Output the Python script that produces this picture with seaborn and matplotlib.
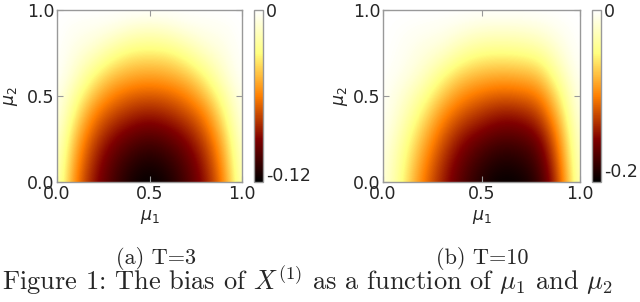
import pandas as pd
import seaborn as sns
import matplotlib
matplotlib.use("Agg")
from matplotlib import pyplot as plt

# grid of the two panels (rows = mu2, columns = mu1)
mu1 = [0.0, 0.1, 0.2, 0.3, 0.4, 0.5, 0.6, 0.7, 0.8, 0.9, 1.0]
mu2 = [0.0, 0.1, 0.2, 0.3, 0.4, 0.5, 0.6, 0.7, 0.8, 0.9, 1.0]

# bias of X^(1), T=3
bias_t3 = [
    [-0.013, -0.063, -0.091, -0.108, -0.121, -0.126, -0.121, -0.108, -0.091, -0.063, -0.013],
    [-0.011, -0.058, -0.087, -0.105, -0.116, -0.121, -0.116, -0.105, -0.087, -0.058, -0.011],
    [-0.009, -0.052, -0.081, -0.098, -0.108, -0.113, -0.108, -0.098, -0.081, -0.052, -0.009],
    [-0.006, -0.044, -0.072, -0.088, -0.097, -0.101, -0.097, -0.088, -0.072, -0.044, -0.006],
    [-0.004, -0.034, -0.062, -0.076, -0.084, -0.088, -0.084, -0.076, -0.062, -0.034, -0.004],
    [-0.003, -0.025, -0.048, -0.063, -0.071, -0.073, -0.071, -0.063, -0.048, -0.025, -0.003],
    [-0.001, -0.015, -0.035, -0.049, -0.055, -0.058, -0.055, -0.049, -0.035, -0.015, -0.001],
    [0.000, -0.010, -0.021, -0.034, -0.042, -0.043, -0.042, -0.034, -0.021, -0.010, 0.000],
    [0.000, -0.006, -0.010, -0.019, -0.026, -0.028, -0.026, -0.019, -0.010, -0.006, 0.000],
    [0.000, -0.003, -0.004, -0.006, -0.011, -0.013, -0.011, -0.006, -0.004, -0.003, 0.000],
    [0.000, 0.000, 0.000, 0.000, 0.000, 0.000, 0.000, 0.000, 0.000, 0.000, 0.000],
]

# bias of X^(1), T=10
bias_t10 = [
    [-0.011, -0.054, -0.108, -0.148, -0.181, -0.202, -0.214, -0.211, -0.194, -0.125, -0.017],
    [-0.010, -0.049, -0.099, -0.142, -0.174, -0.194, -0.205, -0.202, -0.185, -0.116, -0.015],
    [-0.008, -0.043, -0.088, -0.131, -0.163, -0.181, -0.192, -0.189, -0.174, -0.105, -0.012],
    [-0.005, -0.034, -0.075, -0.116, -0.146, -0.161, -0.172, -0.170, -0.155, -0.092, -0.009],
    [-0.003, -0.026, -0.058, -0.099, -0.125, -0.140, -0.151, -0.148, -0.133, -0.075, -0.005],
    [-0.002, -0.019, -0.043, -0.077, -0.103, -0.116, -0.123, -0.120, -0.110, -0.058, -0.003],
    [-0.001, -0.011, -0.026, -0.056, -0.080, -0.090, -0.095, -0.092, -0.084, -0.039, -0.002],
    [0.000, -0.006, -0.017, -0.032, -0.054, -0.065, -0.067, -0.065, -0.058, -0.024, 0.000],
    [0.000, -0.004, -0.011, -0.015, -0.030, -0.039, -0.041, -0.039, -0.032, -0.013, 0.000],
    [0.000, -0.002, -0.004, -0.006, -0.011, -0.017, -0.017, -0.017, -0.013, -0.005, 0.000],
    [0.000, 0.000, 0.000, 0.000, 0.000, 0.000, 0.000, 0.000, 0.000, 0.000, 0.000],
]

cbar_min_t3 = -0.126
cbar_min_t10 = -0.215
cbar_ticks_t3 = [0, -0.12]
cbar_ticks_t10 = [0, -0.2]
cbar_labels_t3 = ["0", "-0.12"]
cbar_labels_t10 = ["0", "-0.2"]
axis_ticks = [0.0, 0.5, 1.0]
axis_ticklabels = ["0.0", "0.5", "1.0"]
subcaptions = ["(a) T=3", "(b) T=10"]
caption = r"Figure 1: The bias of $X^{(1)}$ as a function of $\mu_1$ and $\mu_2$"

sns.set_style("ticks", {"xtick.direction": "in", "ytick.direction": "in",
                        "axes.edgecolor": "0.6"})
plt.rcParams["font.family"] = ["DejaVu Sans"]
plt.rcParams["axes.unicode_minus"] = False

W, H = 640, 302
fig = plt.figure(figsize=(W / 100, H / 100), dpi=100)


def px(x, y, w, h):
    # pixel box (left, top, width, height) -> figure fraction
    return [x / W, 1 - (y + h) / H, w / W, h / H]


panels = [
    (bias_t3, cbar_min_t3, cbar_ticks_t3, cbar_labels_t3, (57, 10, 185, 172), (254, 10, 9, 172), -0.2),
    (bias_t10, cbar_min_t10, cbar_ticks_t10, cbar_labels_t10, (383, 10, 197, 172), (592, 10, 9, 172), -0.17),
]

fs = 12.5
step = mu1[1] - mu1[0]
for bias, vmin, cticks, clabels, abox, cbox, ylab_x in panels:
    df = pd.DataFrame(bias, index=mu2, columns=mu1)
    ax = fig.add_axes(px(*abox))
    im = ax.imshow(df.values, origin="lower", cmap="afmhot", vmin=vmin, vmax=0,
                   extent=(mu1[0] - step / 2, mu1[-1] + step / 2,
                           mu2[0] - step / 2, mu2[-1] + step / 2),
                   interpolation="bicubic", interpolation_stage="data", aspect="auto")
    ax.set_xlim(0, 1)
    ax.set_ylim(0, 1)
    ax.set_xticks(axis_ticks)
    ax.set_xticklabels(axis_ticklabels)
    ax.set_yticks(axis_ticks)
    ax.set_yticklabels(axis_ticklabels)
    ax.tick_params(top=True, right=True, direction="in", length=4, width=0.8,
                   color="0.6", labelsize=fs, pad=2)
    for s in ax.spines.values():
        s.set_edgecolor("0.6")
        s.set_linewidth(1)
    ax.set_xlabel(r"$\mu_1$", fontsize=fs)
    ax.set_ylabel(r"$\mu_2$", fontsize=fs)
    ax.xaxis.set_label_coords(0.5, -0.15)
    ax.yaxis.set_label_coords(ylab_x, 0.5)

    cax = fig.add_axes(px(*cbox))
    cb = fig.colorbar(im, cax=cax)
    cb.set_ticks(cticks)
    cb.set_ticklabels(clabels)
    cb.ax.tick_params(length=0, labelsize=fs, pad=2)
    cb.outline.set_edgecolor("0.6")
    cb.outline.set_linewidth(1)

for x, txt in zip([156, 482], subcaptions):
    fig.text(x / W, 1 - 264 / H, txt, ha="center", va="baseline",
             family="cmr10", fontsize=16)

fig.text(2 / W, 1 - 290 / H, caption, ha="left", va="baseline",
         family="cmr10", math_fontfamily="cm", fontsize=19)

fig.savefig("out.png", dpi=100)
